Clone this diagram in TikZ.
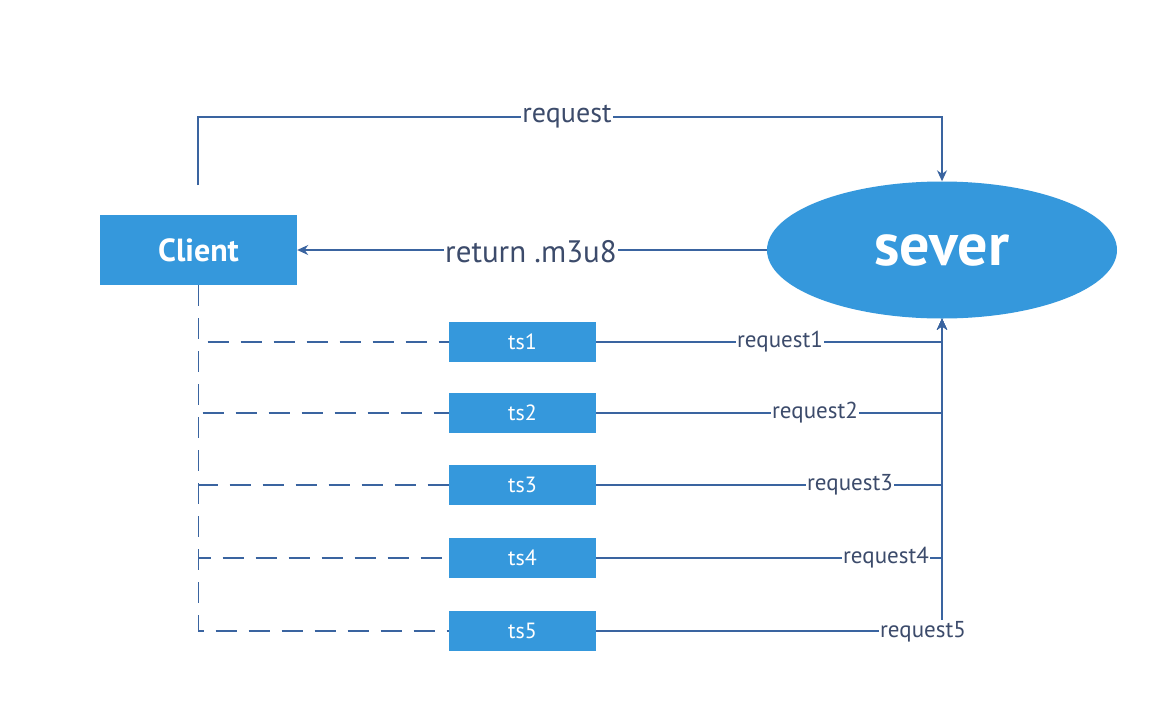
\documentclass[tikz,border=0pt]{standalone}
\usepackage{fontspec}
\setmainfont{PT Sans}
\usetikzlibrary{shapes.geometric,arrows.meta}
\definecolor{boxblue}{HTML}{3598DC}
\definecolor{linecol}{HTML}{3A64A0}
\definecolor{labelcol}{HTML}{3C4B6B}
\tikzset{
  bluebox/.style={rectangle,fill=boxblue,text=white,inner sep=0pt},
  conn/.style={draw=linecol,line width=1.3pt},
  arr/.style={conn,-{Stealth[length=11pt,width=10pt]}},
  dashconn/.style={conn,dash pattern=on 21pt off 12pt},
  lbl/.style={fill=white,text=labelcol,inner xsep=1pt,inner ysep=2pt},
  small/.style={font=\fontsize{23}{26}\selectfont}
}
\begin{document}
\begin{tikzpicture}[x=1pt,y=-1pt]
\useasboundingbox (0,0) rectangle (1154,710);
\fill[white] (0,0) rectangle (1154,710);
% nodes
\node[bluebox,minimum width=197pt,minimum height=70pt,font=\bfseries\fontsize{32}{34}\selectfont] (client) at (198.5,250) {Client};
\node[ellipse,fill=boxblue,text=white,minimum width=350pt,minimum height=137pt,inner sep=0pt,font=\bfseries\fontsize{60}{64}\selectfont] (sever) at (942,250) {sever};
\foreach \i/\y in {1/342,2/413,3/485,4/558,5/631}{
  \node[bluebox,minimum width=147pt,minimum height=40pt,font=\fontsize{22}{24}\selectfont] (ts\i) at (522.5,\y) {ts\i};
}
% request path
\coordinate (reqstart) at (198,185);
\draw[arr] (reqstart) -- (198,117) -- (942,117) -- (sever.north);
\node[lbl,font=\fontsize{28}{30}\selectfont] (reqlbl) at (567,117) {request};
% return
\draw[arr] (sever.west) -- (client.east);
\node[lbl,font=\fontsize{31}{33}\selectfont] (retlbl) at (531,252) {return .m3u8};
% ts to sever
\foreach \i in {1,...,5}{
  \draw[arr] (ts\i.east) -| (sever.south);
}
\node[lbl,small] (r1) at (780,342) {request1};
\node[lbl,small] (r2) at (815,413) {request2};
\node[lbl,small] (r3) at (850,485) {request3};
\node[lbl,small] (r4) at (886,558) {request4};
\node[lbl,small] (r5) at (923,632) {request5};
% dashed client to ts
\foreach \i in {1,...,5}{
  \draw[dashconn] (client.south) |- (ts\i.west);
}
\end{tikzpicture}
\end{document}
